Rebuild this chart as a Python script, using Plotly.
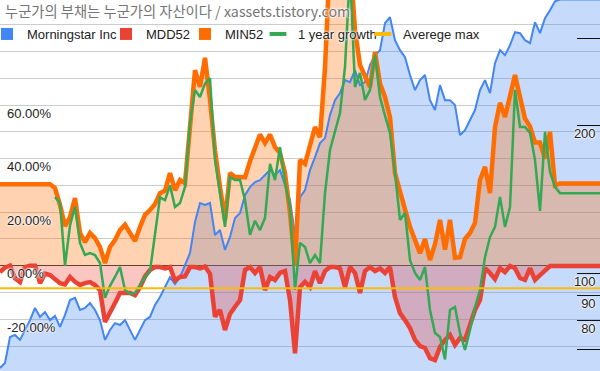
import plotly.graph_objects as go

# ---------------- data (sampled every ~5 px of the original, one value per step) ----------------
morningstar = [
    64.1, 65.6, 74.1, 74.8, 73.1, 76.6, 80.2, 84.9, 81.4, 83.3,
    80.2, 81.8, 77.7, 82.2, 88.1, 89.0, 84.1, 84.9, 86.9, 84.1,
    80.2, 73.1, 76.6, 79.1, 78.4, 80.2, 76.6, 73.1, 76.6, 80.2,
    81.4, 86.1, 89.4, 93.7, 98.1, 95.0, 98.1, 103.8, 109.8, 127.0,
    138.8, 137.5, 138.8, 119.5, 122.3, 111.4, 118.4, 129.4, 132.4, 144.0,
    149.5, 153.1, 154.5, 158.2, 161.9, 158.2, 161.9, 151.0, 140.7, 119.5,
    142.7, 147.5, 161.9, 172.1, 183.7, 188.1, 209.5, 224.7, 232.2, 246.8,
    244.5, 258.6, 241.1, 244.5, 264.8, 277.4, 284.0, 322.3, 331.3, 297.6,
    284.0, 274.8, 252.7, 235.5, 246.8, 252.7, 224.7, 214.5, 241.1, 224.7,
    224.7, 219.5, 190.8, 195.3, 204.6, 214.5, 235.5, 246.8, 232.2, 267.2,
    284.0, 277.4, 290.7, 308.9, 307.5, 297.6, 293.4, 323.7, 307.5, 329.8,
    342.4, 357.1, 360.0, 360.0, 360.0, 360.0, 360.0, 360.0, 360.0, 360.0,
    360.0,
]

mdd52 = [
    -0.024, -0.007, 0.0, -0.047, -0.061, -0.005, 0.0, 0.0, -0.065, -0.03,
    -0.035, -0.05, -0.065, -0.07, -0.042, -0.06, -0.072, -0.065, -0.061, -0.072,
    -0.091, -0.21, -0.17, -0.139, -0.102, -0.1, -0.102, -0.11, -0.08, -0.04,
    -0.016, -0.005, -0.005, -0.01, -0.005, -0.055, -0.042, -0.04, -0.005, -0.005,
    -0.01, -0.003, -0.03, -0.19, -0.165, -0.24, -0.18, -0.153, -0.128, -0.016,
    -0.005, -0.027, -0.005, -0.091, -0.042, -0.053, -0.027, -0.02, -0.128, -0.327,
    -0.08, -0.06, -0.08, -0.02, -0.065, -0.02, -0.005, -0.005, -0.01, -0.08,
    -0.005, -0.027, -0.102, -0.02, -0.005, -0.02, -0.01, -0.027, -0.005, -0.117,
    -0.177, -0.203, -0.233, -0.277, -0.300, -0.307, -0.345, -0.352, -0.303, -0.277,
    -0.259, -0.296, -0.270, -0.277, -0.221, -0.165, -0.128, -0.009, -0.027, -0.05,
    -0.009, -0.024, -0.001, -0.009, -0.046, -0.053, -0.009, -0.053, -0.035, -0.016,
    -0.001, -0.001, -0.001, -0.001, -0.001, -0.001, -0.001, -0.001, -0.001, -0.001,
    -0.001,
]

min52 = [
    0.304, 0.304, 0.304, 0.304, 0.304, 0.304, 0.304, 0.304, 0.304, 0.304,
    0.304, 0.29, 0.227, 0.148, 0.182, 0.253, 0.122, 0.088, 0.122, 0.103,
    0.07, 0.01, 0.07, 0.096, 0.133, 0.153, 0.122, 0.092, 0.145, 0.19,
    0.208, 0.23, 0.271, 0.28, 0.346, 0.282, 0.32, 0.308, 0.518, 0.73,
    0.668, 0.776, 0.62, 0.43, 0.295, 0.171, 0.346, 0.331, 0.331, 0.33,
    0.39, 0.443, 0.49, 0.458, 0.49, 0.443, 0.421, 0.346, 0.197, 0.0,
    0.395, 0.38, 0.443, 0.518, 0.48, 0.74, 1.15, 1.2, 1.2, 1.2,
    1.15, 0.88, 0.75, 0.71, 0.667, 0.798, 0.68, 0.63, 0.555, 0.346,
    0.271, 0.21, 0.145, 0.1, 0.047, 0.1, 0.021, 0.08, 0.171, 0.06,
    0.171, 0.03, 0.032, 0.1, 0.122, 0.16, 0.32, 0.369, 0.271, 0.518,
    0.608, 0.555, 0.63, 0.712, 0.63, 0.55, 0.52, 0.46, 0.46, 0.40,
    0.5, 0.3, 0.307, 0.307, 0.307, 0.307, 0.307, 0.307, 0.307, 0.307,
    0.307,
]

growth_1y = [
    None, None, None, None, None, None, None, None, None, None,
    None, 0.256, 0.234, 0.0, 0.15, 0.22, 0.085, 0.04, 0.047, 0.04,
    0.01, -0.12, -0.075, -0.042, -0.005, -0.091, -0.105, -0.102, -0.07, -0.042,
    -0.02, 0.122, 0.255, 0.245, 0.3, 0.219, 0.234, 0.294, 0.533, 0.656,
    0.63, 0.68, 0.70, 0.395, 0.271, 0.145, 0.331, 0.32, 0.32, 0.245,
    0.115, 0.168, 0.133, 0.178, 0.38, 0.32, 0.443, 0.31, 0.219, -0.09,
    0.085, 0.07, 0.01, 0.04, 0.01, 0.271, 0.432, 0.5, 0.57, 0.742,
    1.1, 0.667, 0.72, 0.619, 0.656, 0.787, 0.63, 0.56, 0.496, 0.346,
    0.171, 0.197, 0.021, -0.027, -0.053, -0.005, -0.165, -0.251, -0.266, -0.35,
    -0.165, -0.154, -0.251, -0.314, -0.24, -0.154, -0.091, 0.032, 0.107, 0.145,
    0.257, 0.145, 0.219, 0.656, 0.518, 0.518, 0.496, 0.395, 0.205, 0.5,
    0.35, 0.294, 0.271, 0.271, 0.271, 0.271, 0.271, 0.271, 0.271, 0.271,
    0.271,
]

avg_max = -0.084

periods = list(range(len(morningstar)))

pct_tickvals = [-0.2, 0.0, 0.2, 0.4, 0.6]
pct_ticktext = ["-20.00%", "0.00%", "20.00%", "40.00%", "60.00%"]
price_tickvals = [70, 80, 90, 100, 200, 300]
price_ticktext = ["", "80", "90", "100", "200", ""]

series_names = ["Morningstar Inc", "MDD52", "MIN52", "1 year growth", "Averege max"]
title_text = "누군가의 부채는 누군가의 자산이다 / xassets.tistory.com"

# ---------------- styling ----------------
BLUE, RED, ORANGE, GREEN, YELLOW = "#4285F4", "#EA4335", "#FF6D01", "#34A853", "#FBBC04"
LABEL_FONT = "Arial, Liberation Sans, sans-serif"
HALO = "0 0 2px #fff, 0 0 2px #fff, 0 0 3px #fff"
PRICE_RANGE = [1.8007, 2.5553]   # log10 range of the right axis
PCT_RANGE = [-0.393, 0.992]      # range of the left axis

fig = go.Figure()

# --- area fills first (like the original: all areas below all lines) ---
fig.add_trace(go.Scatter(
    x=periods, y=morningstar, yaxis="y", mode="lines", name=series_names[0],
    line=dict(color=BLUE, width=0), fill="tozeroy", fillcolor="rgba(66,133,244,0.3)",
    showlegend=False, hoverinfo="skip"))
fig.add_trace(go.Scatter(
    x=periods, y=mdd52, yaxis="y2", mode="lines", name=series_names[1],
    line=dict(color=RED, width=0), fill="tozeroy", fillcolor="rgba(234,67,53,0.3)",
    showlegend=False, hoverinfo="skip"))
fig.add_trace(go.Scatter(
    x=periods, y=min52, yaxis="y2", mode="lines", name=series_names[2],
    line=dict(color=ORANGE, width=0), fill="tozeroy", fillcolor="rgba(255,109,1,0.3)",
    showlegend=False, hoverinfo="skip"))

# --- lines on top ---
fig.add_trace(go.Scatter(
    x=periods, y=morningstar, yaxis="y3", mode="lines", name=series_names[0],
    line=dict(color=BLUE, width=2), showlegend=False, hoverinfo="skip"))
fig.add_trace(go.Scatter(
    x=periods, y=mdd52, yaxis="y4", mode="lines", name=series_names[1],
    line=dict(color=RED, width=4.5), showlegend=False, hoverinfo="skip"))
fig.add_trace(go.Scatter(
    x=periods, y=min52, yaxis="y4", mode="lines", name=series_names[2],
    line=dict(color=ORANGE, width=4.5), showlegend=False, hoverinfo="skip"))
fig.add_trace(go.Scatter(
    x=periods, y=growth_1y, yaxis="y4", mode="lines", name=series_names[3],
    line=dict(color=GREEN, width=2.5), showlegend=False, hoverinfo="skip"))
fig.add_trace(go.Scatter(
    x=[periods[0], periods[-1]], y=[avg_max, avg_max], yaxis="y4", mode="lines",
    name=series_names[4], line=dict(color=YELLOW, width=2), showlegend=False, hoverinfo="skip"))

# legend entries (one legend box each so they can be spaced like the original)
legend_colors = [BLUE, RED, ORANGE, GREEN, YELLOW]
legend_kinds = ["square", "square", "square", "line", "line"]
legend_left_px = [-13, 106, 185, 258, 363]
legend_layouts = {}
for i, (nm, col, kind, lx) in enumerate(zip(series_names, legend_colors, legend_kinds, legend_left_px)):
    key = "legend" if i == 0 else f"legend{i + 1}"
    if kind == "square":
        marker = dict(symbol="square", size=12, color=col, line=dict(width=0))
    else:
        marker = dict(symbol="line-ew", size=12, color=col, line=dict(width=4, color=col))
    fig.add_trace(go.Scatter(x=[None], y=[None], mode="markers", name=nm, marker=marker,
                             showlegend=True, legend=key, yaxis="y4"))
    legend_layouts[key] = dict(
        x=lx / 600, y=1 - 34 / 371, xanchor="left", yanchor="middle",
        orientation="h", bgcolor="rgba(0,0,0,0)", borderwidth=0,
        font=dict(family=LABEL_FONT, size=13, color="#222222", shadow=HALO), itemwidth=30)

fig.update_layout(
    width=600, height=371, autosize=False,
    margin=dict(l=0, r=0, t=0, b=0, pad=0, autoexpand=False),
    paper_bgcolor="white", plot_bgcolor="white",
    showlegend=True,
    title=dict(text=title_text, x=5 / 600, xanchor="left", y=1 - 12 / 371, yanchor="middle",
               font=dict(family="Noto Sans CJK KR", size=14.3, color="#757575", shadow=HALO)),
    xaxis=dict(range=[periods[0], periods[-1]], showgrid=False, zeroline=False,
               showticklabels=False, ticks="", showline=False, fixedrange=True),
    yaxis=dict(type="log", side="right", range=PRICE_RANGE,
               showgrid=False, zeroline=False, showline=False,
               tickvals=price_tickvals, ticktext=price_ticktext,
               ticks="inside", ticklen=23, tickwidth=1, tickcolor="#111111",
               ticklabelposition="inside", ticklabelshift=8, ticklabelstandoff=-19,
               tickfont=dict(family=LABEL_FONT, size=13, color="#222222", shadow=HALO),
               fixedrange=True),
    yaxis2=dict(overlaying="y", side="left", range=PCT_RANGE,
                tickvals=pct_tickvals, ticktext=pct_ticktext,
                showgrid=True, gridcolor="#cccccc", gridwidth=1,
                minor=dict(dtick=0.1, tick0=0, showgrid=True, gridcolor="#cccccc", gridwidth=1),
                zeroline=True, zerolinecolor="#333333", zerolinewidth=1,
                ticks="", showline=False,
                ticklabelposition="inside", ticklabelshift=8, ticklabelstandoff=4,
                tickfont=dict(family=LABEL_FONT, size=13, color="#222222", shadow=HALO),
                fixedrange=True),
    yaxis3=dict(overlaying="y", type="log", side="right", range=PRICE_RANGE,
                visible=False, showgrid=False, zeroline=False, fixedrange=True),
    yaxis4=dict(overlaying="y", side="left", range=PCT_RANGE,
                visible=False, showgrid=False, zeroline=False, fixedrange=True),
    **legend_layouts,
)

fig.write_html(
    "out.html",
    config={"displayModeBar": False, "staticPlot": True},
    post_script="document.body.style.margin='0';document.body.style.padding='0';",
)
